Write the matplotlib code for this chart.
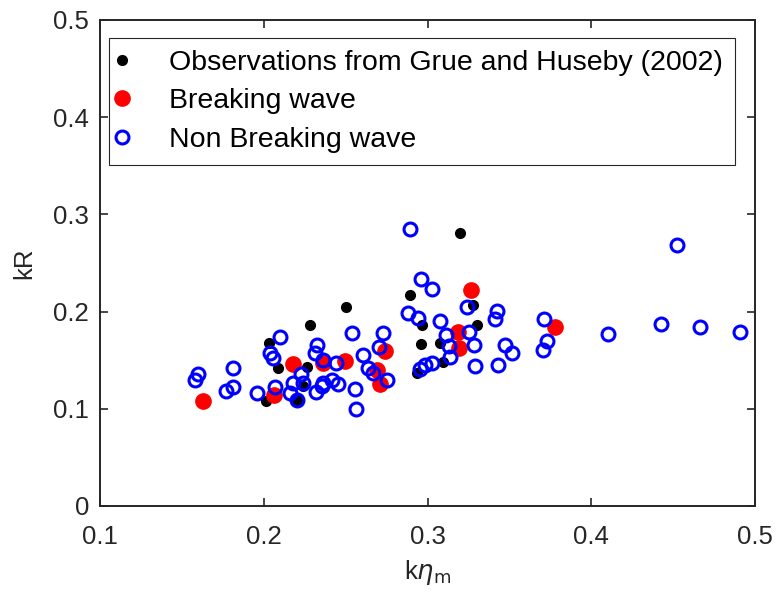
import matplotlib
matplotlib.use('Agg')
import matplotlib.pyplot as plt
import numpy as np

# observations (Grue and Huseby 2002)
obs_x = [0.3198, 0.2893, 0.250, 0.228, 0.2034, 0.2085, 0.2262, 0.2012, 0.220, 0.224,
         0.2964, 0.3276, 0.3304, 0.2958, 0.3076, 0.3097, 0.2934]
obs_y = [0.281, 0.2168, 0.205, 0.186, 0.168, 0.1417, 0.1433, 0.1083, 0.109, 0.123,
         0.186, 0.2068, 0.186, 0.1667, 0.168, 0.1485, 0.1365]

# breaking wave
brk_x = [0.163, 0.218, 0.2065, 0.2364, 0.2496, 0.274, 0.269, 0.271, 0.3266, 0.3188, 0.3194, 0.3779]
brk_y = [0.108, 0.146, 0.114, 0.147, 0.1495, 0.159, 0.140, 0.126, 0.2222, 0.1794, 0.1622, 0.1845]

# non breaking wave
nb_x = [0.4524, 0.3714, 0.3728, 0.3705, 0.410, 0.4428, 0.4664, 0.4908, 0.2893, 0.2883,
        0.254, 0.2726, 0.2704, 0.2323, 0.2313, 0.236, 0.2441, 0.2604, 0.2639, 0.2669,
        0.275, 0.2100, 0.2225, 0.218, 0.224, 0.2362, 0.2415, 0.2455, 0.2557, 0.2563,
        0.160, 0.158, 0.181, 0.181, 0.177, 0.1957, 0.2038, 0.2058, 0.2069, 0.216,
        0.220, 0.232, 0.2354, 0.2958, 0.303, 0.2944, 0.3076, 0.324, 0.3422, 0.3412,
        0.3113, 0.3255, 0.3286, 0.3133, 0.3137, 0.3473, 0.3518, 0.303, 0.2985, 0.2954,
        0.329, 0.3433]
nb_y = [0.2685, 0.192, 0.170, 0.160, 0.177, 0.1876, 0.1845, 0.1794, 0.2846, 0.199,
        0.178, 0.1777, 0.164, 0.1656, 0.157, 0.150, 0.1468, 0.155, 0.1417, 0.137,
        0.1296, 0.1742, 0.1355, 0.127, 0.1265, 0.127, 0.130, 0.126, 0.120, 0.0998,
        0.1358, 0.1296, 0.1417, 0.122, 0.1186, 0.1166, 0.1577, 0.152, 0.122, 0.116,
        0.109, 0.1176, 0.1235, 0.2332, 0.2233, 0.193, 0.1903, 0.205, 0.2009, 0.192,
        0.176, 0.179, 0.1656, 0.1646, 0.153, 0.1656, 0.157, 0.1468, 0.145, 0.1406,
        0.144, 0.145]

plt.rcParams['font.family'] = ['Liberation Sans', 'DejaVu Sans']
plt.rcParams['font.size'] = 18.5
plt.rcParams['mathtext.fontset'] = 'dejavusans'

fig = plt.figure(figsize=(7.76, 6), dpi=100)
ax = fig.add_axes([0.1289, 0.1567, 0.8441, 0.81])

ax.plot(obs_x, obs_y, 'o', color='k', ms=7, mec='k', label='Observations from Grue and Huseby (2002)', zorder=3)
ax.plot(brk_x, brk_y, 'o', color='r', ms=11, mec='r', label='Breaking wave', zorder=4)
ax.plot(nb_x, nb_y, 'o', mfc='none', mec='b', ms=9.3, mew=2.2, label='Non Breaking wave', zorder=5)

ax.set_xlim(0.1, 0.5)
ax.set_ylim(0, 0.5)
ax.set_xticks([0.1, 0.2, 0.3, 0.4, 0.5])
ax.set_yticks([0, 0.1, 0.2, 0.3, 0.4, 0.5])
ax.set_xticklabels(['0.1', '0.2', '0.3', '0.4', '0.5'])
ax.set_yticklabels(['0', '0.1', '0.2', '0.3', '0.4', '0.5'])
ax.tick_params(direction='in', length=6, width=1.2, top=True, right=True,
               colors='#262626', labelcolor='#262626', pad=8)
ax.tick_params(axis='x', pad=14)
for s in ax.spines.values():
    s.set_linewidth(1.4)
    s.set_color('#262626')

ax.set_xlabel(r'k$\eta_{\rm m}$', color='#262626', labelpad=6)
ax.set_ylabel('kR', color='#262626', labelpad=12)

leg = ax.legend(loc='upper left', bbox_to_anchor=(0.0137, 0.963), fancybox=False,
                framealpha=1, edgecolor='#262626', borderaxespad=0, handletextpad=1.6,
                labelspacing=0.44, borderpad=0.42, handlelength=0.1, fontsize=20.5)
leg.get_frame().set_linewidth(0.8)

fig.savefig('out.png', dpi=100)
